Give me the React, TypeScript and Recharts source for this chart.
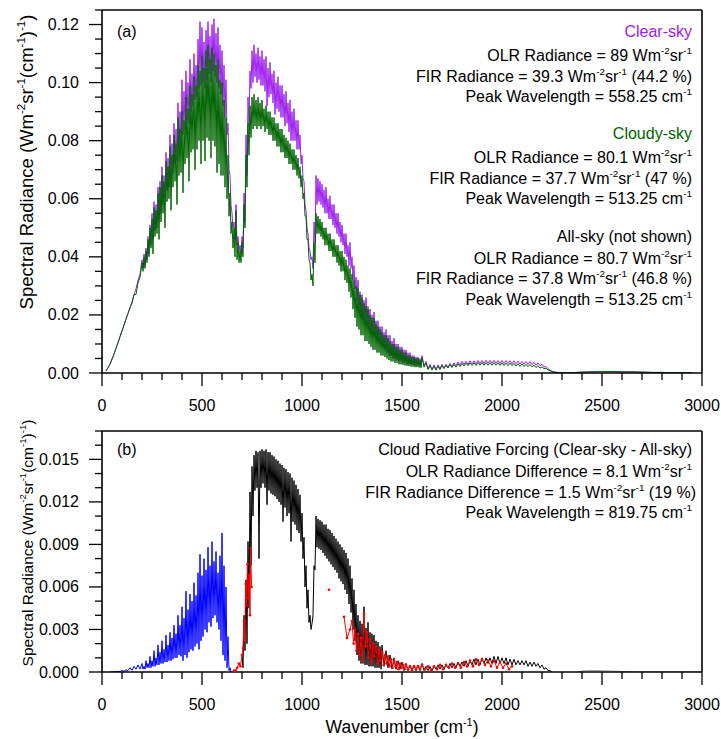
import React from 'react';
import { ComposedChart, Line, XAxis, YAxis, ReferenceLine, Label } from 'recharts';

const FONT = '"Liberation Sans", Arial, Helvetica, sans-serif';

// Spectra are stored as upper / lower envelope readings on piecewise-regular grids:
// the upper value sits at wn, the lower value half a step later.
type Seg = { start: number; step: number; n: number };

// ---------- Panel (a): TOA spectral radiance ----------
const A_SEGS: Seg[] = [
  { start: 20, step: 20, n: 9 },
  { start: 200, step: 10, n: 140 },
  { start: 1600, step: 20, n: 35 },
  { start: 2300, step: 100, n: 7 },
];

const clearHi = [
  0.0007, 0.003, 0.0065, 0.0105, 0.0145, 0.0185, 0.0225, 0.027, 0.032,
  // 200 - 1590
  0.039, 0.041, 0.043, 0.047, 0.051, 0.055, 0.059, 0.058, 0.064, 0.066,
  0.071, 0.068, 0.076, 0.074, 0.082, 0.079, 0.086, 0.084, 0.093, 0.090,
  0.101, 0.097, 0.104, 0.100, 0.108, 0.103, 0.110, 0.106, 0.115, 0.121,
  0.119, 0.114, 0.118, 0.121, 0.116, 0.120, 0.122, 0.117, 0.119, 0.113,
  0.111, 0.106, 0.101, 0.086, 0.068, 0.055, 0.052, 0.058, 0.047, 0.044,
  0.047, 0.062, 0.082, 0.095, 0.104, 0.111, 0.113, 0.110, 0.112, 0.109,
  0.111, 0.108, 0.109, 0.105, 0.107, 0.103, 0.104, 0.100, 0.102, 0.099,
  0.099, 0.096, 0.097, 0.093, 0.094, 0.090, 0.091, 0.087, 0.087, 0.082,
  0.075, 0.066, 0.056, 0.048, 0.042, 0.040, 0.052, 0.068, 0.067, 0.066,
  0.065, 0.063, 0.064, 0.060, 0.061, 0.058, 0.058, 0.055, 0.055, 0.052,
  0.051, 0.048, 0.048, 0.044, 0.045, 0.040, 0.037, 0.033, 0.032, 0.028,
  0.027, 0.025, 0.026, 0.023, 0.022, 0.020, 0.021, 0.018, 0.018, 0.016,
  0.016, 0.014, 0.015, 0.013, 0.013, 0.011, 0.012, 0.010, 0.010, 0.009,
  0.009, 0.008, 0.008, 0.007, 0.007, 0.006, 0.006, 0.0055, 0.0055, 0.005,
  // 1600 - 2280
  0.006, 0.004, 0.003, 0.0028, 0.0028, 0.003, 0.003, 0.0033, 0.0035, 0.0038,
  0.004, 0.004, 0.0042, 0.0042, 0.0043, 0.0043, 0.0044, 0.0044, 0.0044, 0.0043,
  0.0043, 0.0043, 0.0042, 0.0042, 0.0041, 0.004, 0.004, 0.0039, 0.0037, 0.0035,
  0.003, 0.0022, 0.001, 0.0004, 0.0002,
  // 2300 - 2900
  0.0001, 0.0003, 0.0005, 0.0004, 0.0003, 0.0002, 0.0001,
];

const clearLo = [
  0.0018, 0.0048, 0.0085, 0.0125, 0.0165, 0.0205, 0.0245, 0.029, 0.034,
  0.036, 0.037, 0.039, 0.041, 0.044, 0.046, 0.049, 0.050, 0.053, 0.055,
  0.058, 0.060, 0.063, 0.064, 0.067, 0.069, 0.072, 0.073, 0.077, 0.078,
  0.082, 0.084, 0.087, 0.086, 0.090, 0.092, 0.094, 0.095, 0.098, 0.099,
  0.100, 0.098, 0.101, 0.103, 0.100, 0.104, 0.102, 0.100, 0.098, 0.096,
  0.092, 0.088, 0.082, 0.070, 0.058, 0.050, 0.046, 0.044, 0.042, 0.041,
  0.043, 0.052, 0.068, 0.085, 0.098, 0.100, 0.102, 0.100, 0.101, 0.099,
  0.099, 0.097, 0.092, 0.095, 0.096, 0.093, 0.089, 0.091, 0.090, 0.088,
  0.088, 0.085, 0.086, 0.083, 0.080, 0.080, 0.080, 0.077, 0.077, 0.072,
  0.067, 0.058, 0.050, 0.043, 0.039, 0.036, 0.045, 0.058, 0.059, 0.058,
  0.057, 0.055, 0.055, 0.053, 0.053, 0.051, 0.050, 0.048, 0.047, 0.045,
  0.044, 0.041, 0.040, 0.037, 0.036, 0.032, 0.029, 0.025, 0.023, 0.020,
  0.019, 0.017, 0.017, 0.015, 0.014, 0.013, 0.013, 0.011, 0.011, 0.010,
  0.009, 0.008, 0.007, 0.006, 0.006, 0.005, 0.005, 0.0045, 0.004, 0.004,
  0.0035, 0.0035, 0.003, 0.003, 0.003, 0.0028, 0.0026, 0.0025, 0.0025, 0.0022,
  0.0025, 0.0015, 0.0012, 0.0012, 0.0015, 0.0018, 0.002, 0.0022, 0.0025, 0.0028,
  0.003, 0.003, 0.0032, 0.0032, 0.0033, 0.0033, 0.0034, 0.0034, 0.0034, 0.0033,
  0.0033, 0.0033, 0.0032, 0.0032, 0.0031, 0.003, 0.003, 0.0029, 0.0027, 0.0025,
  0.0021, 0.0015, 0.0006, 0.0003, 0.0001,
  0.0001, 0.0004, 0.0005, 0.0004, 0.0002, 0.0001, 0.0001,
];

const cloudyHi = [
  0.0007, 0.003, 0.0065, 0.0105, 0.0145, 0.0185, 0.0225, 0.027, 0.031,
  0.038, 0.040, 0.042, 0.046, 0.050, 0.053, 0.057, 0.056, 0.062, 0.064,
  0.068, 0.066, 0.073, 0.071, 0.078, 0.075, 0.082, 0.079, 0.088, 0.084,
  0.090, 0.087, 0.095, 0.091, 0.099, 0.096, 0.102, 0.099, 0.106, 0.104,
  0.109, 0.105, 0.111, 0.113, 0.108, 0.112, 0.110, 0.106, 0.108, 0.101,
  0.100, 0.094, 0.088, 0.075, 0.062, 0.052, 0.050, 0.056, 0.045, 0.042,
  0.045, 0.058, 0.075, 0.086, 0.092, 0.095, 0.096, 0.094, 0.095, 0.093,
  0.094, 0.091, 0.092, 0.090, 0.090, 0.088, 0.088, 0.086, 0.086, 0.084,
  0.084, 0.082, 0.081, 0.080, 0.079, 0.077, 0.077, 0.075, 0.074, 0.071,
  0.068, 0.062, 0.054, 0.046, 0.038, 0.034, 0.045, 0.055, 0.054, 0.053,
  0.052, 0.050, 0.050, 0.048, 0.048, 0.046, 0.046, 0.044, 0.044, 0.042,
  0.042, 0.040, 0.039, 0.037, 0.036, 0.034, 0.032, 0.030, 0.029, 0.027,
  0.026, 0.024, 0.023, 0.022, 0.020, 0.019, 0.019, 0.017, 0.016, 0.015,
  0.014, 0.013, 0.013, 0.012, 0.011, 0.010, 0.010, 0.009, 0.009, 0.008,
  0.008, 0.007, 0.007, 0.006, 0.006, 0.0055, 0.0055, 0.005, 0.005, 0.0045,
  0.0055, 0.0035, 0.0025, 0.0024, 0.0024, 0.0026, 0.0027, 0.003, 0.003, 0.0032,
  0.0033, 0.0034, 0.0035, 0.0035, 0.0036, 0.0036, 0.0036, 0.0036, 0.0036, 0.0035,
  0.0035, 0.0034, 0.0034, 0.0033, 0.0032, 0.0031, 0.003, 0.0029, 0.0027, 0.0025,
  0.0021, 0.0016, 0.0008, 0.0003, 0.0001,
  0.0001, 0.0003, 0.0005, 0.0004, 0.0003, 0.0002, 0.0001,
];

const cloudyLo = [
  0.0018, 0.0048, 0.0085, 0.0125, 0.0165, 0.0205, 0.024, 0.027, 0.033,
  0.035, 0.036, 0.038, 0.040, 0.043, 0.041, 0.047, 0.048, 0.046, 0.052,
  0.055, 0.050, 0.059, 0.060, 0.056, 0.064, 0.066, 0.058, 0.068, 0.069,
  0.062, 0.072, 0.074, 0.066, 0.076, 0.077, 0.070, 0.077, 0.080, 0.072,
  0.080, 0.073, 0.081, 0.080, 0.074, 0.080, 0.078, 0.069, 0.072, 0.068,
  0.068, 0.064, 0.060, 0.054, 0.048, 0.043, 0.040, 0.039, 0.038, 0.038,
  0.040, 0.050, 0.064, 0.075, 0.081, 0.084, 0.085, 0.084, 0.085, 0.084,
  0.085, 0.083, 0.084, 0.082, 0.082, 0.080, 0.080, 0.078, 0.078, 0.076,
  0.076, 0.074, 0.074, 0.072, 0.072, 0.070, 0.070, 0.068, 0.067, 0.064,
  0.060, 0.054, 0.046, 0.039, 0.032, 0.030, 0.038, 0.048, 0.048, 0.047,
  0.046, 0.044, 0.044, 0.042, 0.042, 0.040, 0.040, 0.038, 0.037, 0.035,
  0.035, 0.032, 0.031, 0.028, 0.026, 0.022, 0.019, 0.016, 0.015, 0.013,
  0.013, 0.011, 0.011, 0.010, 0.009, 0.008, 0.008, 0.007, 0.007, 0.006,
  0.006, 0.0055, 0.005, 0.0045, 0.004, 0.004, 0.0035, 0.0035, 0.003, 0.003,
  0.0028, 0.0026, 0.0025, 0.0024, 0.0022, 0.0022, 0.002, 0.002, 0.0019, 0.0018,
  0.002, 0.0012, 0.001, 0.001, 0.0012, 0.0015, 0.0017, 0.0019, 0.002, 0.0022,
  0.0024, 0.0025, 0.0026, 0.0026, 0.0027, 0.0027, 0.0027, 0.0027, 0.0027, 0.0026,
  0.0026, 0.0025, 0.0025, 0.0024, 0.0023, 0.0022, 0.0022, 0.0021, 0.0019, 0.0017,
  0.0015, 0.0011, 0.0005, 0.0002, 0.0001,
  0.0001, 0.0004, 0.0005, 0.0004, 0.0002, 0.0001, 0.0001,
];

// ---------- Panel (b): cloud radiative forcing (clear-sky minus all-sky) ----------
const FIR_SEGS: Seg[] = [
  { start: 40, step: 20, n: 8 },
  { start: 200, step: 10, n: 45 },
];
const firHi = [
  0, 0.00002, 0.00005, 0.0001, 0.00015, 0.0003, 0.0004, 0.0005,
  0.0006, 0.0004, 0.0008, 0.0006, 0.0011, 0.0008, 0.0015, 0.0010, 0.0019, 0.0014,
  0.0022, 0.0016, 0.0026, 0.0019, 0.0028, 0.0024, 0.0033, 0.0027, 0.0040, 0.0033,
  0.0046, 0.0038, 0.0057, 0.0044, 0.0055, 0.0050, 0.0063, 0.0054, 0.0070, 0.0083,
  0.0068, 0.0080, 0.0072, 0.0088, 0.0075, 0.0092, 0.0078, 0.0085, 0.0070, 0.0082,
  0.0098, 0.0075, 0.0060, 0.0025, 0.0003,
];
const firLo = [
  0, 0.00001, 0.00003, 0.00005, 0.0001, 0.00012, 0.0002, 0.0002,
  0.0002, 0.0002, 0.0003, 0.0003, 0.0003, 0.0004, 0.0004, 0.0005, 0.0005, 0.0006,
  0.0006, 0.0007, 0.0007, 0.0008, 0.0008, 0.0009, 0.0010, 0.0010, 0.0012, 0.0011,
  0.0008, 0.0012, 0.0010, 0.0014, 0.0016, 0.0015, 0.0018, 0.0020, 0.0016, 0.0022,
  0.0025, 0.0030, 0.0028, 0.0035, 0.0032, 0.0038, 0.0040, 0.0035, 0.0030, 0.0022,
  0.0012, 0.0008, 0.0003, 0.0001, 0,
];

const MIR_SEGS: Seg[] = [
  { start: 700, step: 10, n: 70 },
  { start: 1400, step: 20, n: 43 },
];
const mirHi = [
  0.0012, 0.0040, 0.0065, 0.0092, 0.0127, 0.0145, 0.0153, 0.0156, 0.0155, 0.0156,
  0.0157, 0.0156, 0.0157, 0.0155, 0.0155, 0.0153, 0.0152, 0.0150, 0.0149, 0.0147,
  0.0146, 0.0144, 0.0143, 0.0141, 0.0140, 0.0137, 0.0135, 0.0132, 0.0129, 0.0125,
  0.0112, 0.0095, 0.0075, 0.0058, 0.0040, 0.0034, 0.0075, 0.0110, 0.0108, 0.0107,
  0.0106, 0.0104, 0.0104, 0.0101, 0.0100, 0.0098, 0.0096, 0.0094, 0.0092, 0.0090,
  0.0088, 0.0086, 0.0084, 0.0080, 0.0075, 0.0066, 0.0058, 0.0048, 0.0040, 0.0036,
  0.0034, 0.0046, 0.0031, 0.0035, 0.0028, 0.0027, 0.0026, 0.0022, 0.0021, 0.0018,
  // 1400 - 2240
  0.0019, 0.0015, 0.0012, 0.0010, 0.0008, 0.0007, 0.0006, 0.0005, 0.0005, 0.0005,
  0.0006, 0.0004, 0.0004, 0.0004, 0.0005, 0.0005, 0.0005, 0.0006, 0.0006, 0.0007,
  0.0007, 0.0008, 0.0008, 0.0009, 0.0009, 0.0010, 0.0010, 0.0010, 0.0011, 0.0011,
  0.0010, 0.0010, 0.0009, 0.0009, 0.0008, 0.0008, 0.0008, 0.0007, 0.0007, 0.0006,
  0.0005, 0.0003, 0.0001,
];
const mirLo = [
  0.0003, 0.0015, 0.0020, 0.0045, 0.0075, 0.0110, 0.0128, 0.0130, 0.0080, 0.0130,
  0.0133, 0.0130, 0.0118, 0.0128, 0.0126, 0.0125, 0.0124, 0.0122, 0.0120, 0.0118,
  0.0106, 0.0116, 0.0110, 0.0112, 0.0092, 0.0106, 0.0104, 0.0100, 0.0098, 0.0092,
  0.0080, 0.0060, 0.0045, 0.0035, 0.0030, 0.0040, 0.0072, 0.0088, 0.0087, 0.0086,
  0.0084, 0.0082, 0.0080, 0.0078, 0.0076, 0.0074, 0.0072, 0.0070, 0.0066, 0.0064,
  0.0062, 0.0058, 0.0055, 0.0048, 0.0042, 0.0030, 0.0022, 0.0012, 0.0008, 0.0006,
  0.0006, 0.0005, 0.0005, 0.0004, 0.0004, 0.0004, 0.0003, 0.0003, 0.0003, 0.0002,
  0.0004, 0.0003, 0.0002, 0.0002, 0.0002, 0.0001, 0.0001, 0.0001, 0.0001, 0.0001,
  0.0001, 0.0001, 0.0001, 0.0002, 0.0002, 0.0002, 0.0003, 0.0003, 0.0003, 0.0004,
  0.0004, 0.0004, 0.0005, 0.0005, 0.0005, 0.0006, 0.0006, 0.0006, 0.0006, 0.0006,
  0.0006, 0.0005, 0.0005, 0.0005, 0.0005, 0.0005, 0.0004, 0.0004, 0.0004, 0.0003,
  0.0002, 0.0001, 0,
];

// highlighted samples [wn, value]; null breaks the trace
const redPoints: [number, number | null][] = [
  [660, 0.0001], [668, 0.0001], [676, 0.0003], [684, 0.0006], [692, 0.0004], [700, 0.0012],
  [705, 0.0017], [710, 0.0036], [714, 0.0022], [718, 0.0062], [722, 0.0047], [727, 0.0076],
  [731, 0.0052], [736, 0.0068], [740, 0.0040], [743, 0.0087], [748, 0.0060],
  [760, null], [1135, 0.0058], [1200, null],
  [1210, 0.0039], [1225, 0.0024], [1240, 0.0030], [1250, 0.0036], [1258, 0.0020], [1265, 0.0030],
  [1272, 0.0015], [1280, 0.0027], [1288, 0.0012], [1295, 0.0024], [1302, 0.0008], [1310, 0.0041],
  [1318, 0.0018], [1325, 0.0028], [1332, 0.0010], [1340, 0.0023], [1348, 0.0007], [1355, 0.0020],
  [1362, 0.0011], [1370, 0.0018], [1378, 0.0006], [1385, 0.0016], [1392, 0.0008], [1400, 0.0014],
  [1408, 0.0005], [1415, 0.0012], [1422, 0.0006], [1430, 0.0011], [1438, 0.0004], [1445, 0.0009],
  [1452, 0.0003], [1460, 0.0008], [1468, 0.0004], [1475, 0.0007], [1482, 0.0002], [1490, 0.0006],
  [1498, 0.0003], [1505, 0.0005], [1512, 0.0002], [1520, 0.0005], [1530, 0.0002], [1540, 0.0004],
  [1550, 0.0001], [1560, 0.0004], [1570, 0.0002], [1580, 0.0004], [1590, 0.0002], [1600, 0.0005],
  [1615, 0.0002], [1630, 0.0004], [1645, 0.0001], [1660, 0.0004], [1675, 0.0002], [1690, 0.0005],
  [1705, 0.0002], [1720, 0.0005], [1735, 0.0003], [1750, 0.0006], [1765, 0.0003], [1780, 0.0006],
  [1795, 0.0003], [1810, 0.0007], [1825, 0.0004], [1840, 0.0008], [1855, 0.0004], [1870, 0.0009],
  [1885, 0.0005], [1900, 0.0009], [1915, 0.0005], [1930, 0.0008], [1945, 0.0004], [1960, 0.0008],
  [1975, 0.0003], [1990, 0.0007], [2005, 0.0003], [2020, 0.0006], [2035, 0.0002], [2050, 0.0004],
];

const greyPoints: [number, number][] = [
  [2380, 0], [2400, 0.00008], [2440, 0.0001], [2480, 0.0001], [2520, 0.00008],
  [2560, 0.00006], [2600, 0.00004], [2640, 0.00002], [2700, 0.00001], [3000, 0],
];

// axis ticks
const X_MAJOR = [0, 500, 1000, 1500, 2000, 2500, 3000];
const A_Y_MAJOR = [0, 0.02, 0.04, 0.06, 0.08, 0.1, 0.12];
const B_Y_MAJOR = [0, 0.003, 0.006, 0.009, 0.012, 0.015];

const xTicks: number[] = [];
for (let w = 0; w <= 3000; w += 100) xTicks.push(w);
const aYTicks: number[] = [];
for (let i = 0; i <= 25; i++) aYTicks.push(Number((i * 0.005).toFixed(3)));
const bYTicks: number[] = [];
for (let i = 0; i <= 17; i++) bYTicks.push(Number((i * 0.001).toFixed(3)));

// ---------- annotation text ----------
type Run = string | { sup: string };
const U: Run[] = [' Wm', { sup: '-2' }, 'sr', { sup: '-1' }];
const CM: Run[] = [' cm', { sup: '-1' }];

const CLEAR_COLOR = '#A020F0';
const CLOUDY_COLOR = '#006400';

const notesA: { y: number; runs: Run[]; fill?: string }[] = [
  { y: 37, runs: ['Clear-sky'], fill: CLEAR_COLOR },
  { y: 60.5, runs: ['OLR Radiance = 89', ...U] },
  { y: 81.5, runs: ['FIR Radiance = 39.3', ...U, ' (44.2 %)'] },
  { y: 102, runs: ['Peak Wavelength = 558.25', ...CM] },
  { y: 139, runs: ['Cloudy-sky'], fill: CLOUDY_COLOR },
  { y: 162.5, runs: ['OLR Radiance = 80.1', ...U] },
  { y: 183.5, runs: ['FIR Radiance = 37.7', ...U, ' (47 %)'] },
  { y: 203.5, runs: ['Peak Wavelength = 513.25', ...CM] },
  { y: 241.5, runs: ['All-sky (not shown)'] },
  { y: 263.5, runs: ['OLR Radiance = 80.7', ...U] },
  { y: 284, runs: ['FIR Radiance = 37.8', ...U, ' (46.8 %)'] },
  { y: 304.5, runs: ['Peak Wavelength = 513.25', ...CM] },
];

const notesB: { y: number; x: number; runs: Run[] }[] = [
  { y: 455, x: 692, runs: ['Cloud Radiative Forcing (Clear-sky - All-sky)'] },
  { y: 477, x: 692, runs: ['OLR Radiance Difference = 8.1', ...U] },
  { y: 497.5, x: 696, runs: ['FIR Radiance Difference = 1.5', ...U, ' (19 %)'] },
  { y: 517.5, x: 692, runs: ['Peak Wavelength = 819.75', ...CM] },
];

const Y_TITLE: Run[] = ['Spectral Radiance (Wm', { sup: '-2' }, 'sr', { sup: '-1' }, '(cm', { sup: '-1' }, ')', { sup: '-1' }, ')'];
const X_TITLE: Run[] = ['Wavenumber (cm', { sup: '-1' }, ')'];

// ---------- helpers ----------
function zigzag(segs: Seg[], hi: number[], lo: number[]) {
  const rows: { wn: number; v: number }[] = [];
  let k = 0;
  segs.forEach((s) => {
    for (let i = 0; i < s.n; i++, k++) {
      const wn = s.start + i * s.step;
      rows.push({ wn, v: hi[k] });
      rows.push({ wn: wn + s.step / 2, v: lo[k] });
    }
  });
  return rows;
}
const toRows = (pts: [number, number | null][]) => pts.map(([wn, v]) => ({ wn, v }));

const clearData = zigzag(A_SEGS, clearHi, clearLo);
const cloudyData = zigzag(A_SEGS, cloudyHi, cloudyLo);
const firData = zigzag(FIR_SEGS, firHi, firLo);
const mirData = zigzag(MIR_SEGS, mirHi, mirLo);
const redData = toRows(redPoints);
const greyData = toRows(greyPoints);

const RichText = ({
  x, y, runs, size, anchor = 'end', fill = '#000', rotate = false,
}: { x: number; y: number; runs: Run[]; size: number; anchor?: string; fill?: string; rotate?: boolean }) => {
  const raise = size * 0.42;
  let up = false;
  const spans = runs.map((r, i) => {
    if (typeof r === 'string') {
      const el = (
        <tspan key={i} dy={up ? raise : 0} fontSize={size}>{r}</tspan>
      );
      up = false;
      return el;
    }
    const el = (
      <tspan key={i} dy={up ? 0 : -raise} fontSize={size * 0.62}>{r.sup}</tspan>
    );
    up = true;
    return el;
  });
  return (
    <text
      x={x}
      y={y}
      textAnchor={anchor as any}
      fontFamily={FONT}
      fill={fill}
      style={{ whiteSpace: 'pre' }}
      transform={rotate ? `rotate(-90 ${x} ${y})` : undefined}
    >
      {spans}
    </text>
  );
};

const AXIS_W = 1.6;
const TICK_W = 1.3;

const XTick = ({ x, y, payload }: any) => {
  const v = payload.value as number;
  const major = X_MAJOR.includes(v);
  return (
    <g>
      <line x1={x} x2={x} y1={y} y2={y + (major ? 13 : 7)} stroke="#000" strokeWidth={TICK_W} />
      {major && (
        <text x={x} y={y + 38} textAnchor="middle" fontSize={16} fontFamily={FONT} fill="#000">
          {v}
        </text>
      )}
    </g>
  );
};

const makeYTick = (majors: number[], digits: number) => ({ x, y, payload }: any) => {
  const v = payload.value as number;
  const major = majors.some((m) => Math.abs(m - v) < 1e-9);
  return (
    <g>
      <line x1={x - (major ? 13 : 7)} x2={x} y1={y} y2={y} stroke="#000" strokeWidth={TICK_W} />
      {major && (
        <text x={x - 23} y={y + 5.5} textAnchor="end" fontSize={16} fontFamily={FONT} fill="#000">
          {v.toFixed(digits)}
        </text>
      )}
    </g>
  );
};
const YTickA = makeYTick(A_Y_MAJOR, 2);
const YTickB = makeYTick(B_Y_MAJOR, 3);

const PanelA = () => (
  <ComposedChart width={721} height={420} margin={{ top: 10, right: 19, bottom: 0, left: 0 }}>
    <XAxis
      type="number"
      dataKey="wn"
      domain={[0, 3000]}
      ticks={xTicks}
      interval={0}
      tickSize={0}
      tickMargin={0}
      tickLine={false}
      tick={<XTick />}
      height={47}
      allowDataOverflow
      axisLine={{ stroke: '#000', strokeWidth: AXIS_W }}
    />
    <YAxis
      type="number"
      domain={[0, 0.125]}
      ticks={aYTicks}
      interval={0}
      tickSize={0}
      tickMargin={0}
      tickLine={false}
      tick={<YTickA />}
      width={102}
      allowDataOverflow
      axisLine={{ stroke: '#000', strokeWidth: AXIS_W }}
    >
      <Label
        content={({ viewBox }: any) => (
          <RichText x={viewBox.x + 33} y={viewBox.y + 152} runs={Y_TITLE} size={18.5} anchor="middle" rotate />
        )}
      />
    </YAxis>
    <ReferenceLine y={0.125} stroke="#000" strokeWidth={AXIS_W} />
    <ReferenceLine x={3000} stroke="#000" strokeWidth={AXIS_W} />
    <Line data={clearData} dataKey="v" type="linear" stroke={CLEAR_COLOR} strokeWidth={1} dot={false} isAnimationActive={false} />
    <Line data={cloudyData} dataKey="v" type="linear" stroke={CLOUDY_COLOR} strokeWidth={1} dot={false} isAnimationActive={false} />
  </ComposedChart>
);

const PanelB = () => (
  <ComposedChart width={721} height={339} margin={{ top: 31, right: 19, bottom: 0, left: 0 }}>
    <XAxis
      type="number"
      dataKey="wn"
      domain={[0, 3000]}
      ticks={xTicks}
      interval={0}
      tickSize={0}
      tickMargin={0}
      tickLine={false}
      tick={<XTick />}
      height={67}
      allowDataOverflow
      axisLine={{ stroke: '#000', strokeWidth: AXIS_W }}
    >
      <Label
        content={({ viewBox }: any) => (
          <RichText x={viewBox.x + viewBox.width / 2} y={viewBox.y + 61} runs={X_TITLE} size={17.5} anchor="middle" />
        )}
      />
    </XAxis>
    <YAxis
      type="number"
      domain={[0, 0.017]}
      ticks={bYTicks}
      interval={0}
      tickSize={0}
      tickMargin={0}
      tickLine={false}
      tick={<YTickB />}
      width={102}
      allowDataOverflow
      axisLine={{ stroke: '#000', strokeWidth: AXIS_W }}
    >
      <Label
        content={({ viewBox }: any) => (
          <RichText x={viewBox.x + 33} y={viewBox.y + 112} runs={Y_TITLE} size={15.5} anchor="middle" rotate />
        )}
      />
    </YAxis>
    <ReferenceLine y={0.017} stroke="#000" strokeWidth={AXIS_W} />
    <ReferenceLine x={3000} stroke="#000" strokeWidth={AXIS_W} />
    <Line data={greyData} dataKey="v" type="linear" stroke="#9a9a9a" strokeWidth={1} dot={false} isAnimationActive={false} />
    <Line data={firData} dataKey="v" type="linear" stroke="#0000FF" strokeWidth={1} dot={false} isAnimationActive={false} />
    <Line data={mirData} dataKey="v" type="linear" stroke="#000000" strokeWidth={1} dot={false} isAnimationActive={false} />
    <Line
      data={redData}
      dataKey="v"
      type="linear"
      stroke="#FF0000"
      strokeWidth={1}
      connectNulls={false}
      dot={{ r: 1.3, fill: '#FF0000', stroke: 'none' }}
      isAnimationActive={false}
    />
  </ComposedChart>
);

export default function App() {
  return (
    <div style={{ position: 'absolute', left: 0, top: 0, width: 721, height: 739, background: '#fff' }}>
      <div style={{ position: 'absolute', left: 0, top: 0 }}>
        <PanelA />
      </div>
      <div style={{ position: 'absolute', left: 0, top: 400 }}>
        <PanelB />
      </div>
      <svg width={721} height={739} style={{ position: 'absolute', left: 0, top: 0, pointerEvents: 'none' }}>
        <text x={117} y={37} fontSize={16} fontFamily={FONT} fill="#000">(a)</text>
        {notesA.map((n, i) => (
          <RichText key={i} x={692} y={n.y} runs={n.runs} size={16} fill={n.fill} />
        ))}
        <text x={117} y={455} fontSize={16} fontFamily={FONT} fill="#000">(b)</text>
        {notesB.map((n, i) => (
          <RichText key={i} x={n.x} y={n.y} runs={n.runs} size={16} />
        ))}
      </svg>
    </div>
  );
}
